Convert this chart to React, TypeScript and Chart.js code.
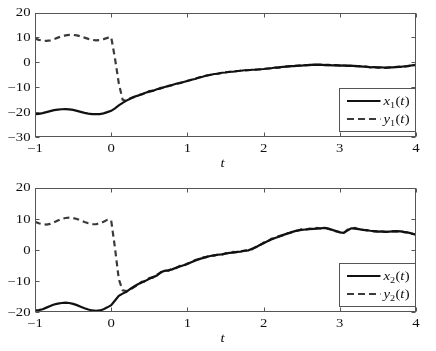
import React, { useEffect, useRef } from 'react';
import { Chart, registerables } from 'chart.js';
Chart.register(...registerables);

const T = [
  -1, -0.95, -0.9, -0.85, -0.8, -0.75, -0.7, -0.65, -0.6, -0.55,
  -0.5, -0.45, -0.4, -0.35, -0.3, -0.25, -0.2, -0.15, -0.1, -0.05,
  0, 0.05, 0.1, 0.15, 0.2, 0.25, 0.3, 0.35, 0.4, 0.45,
  0.5, 0.55, 0.6, 0.65, 0.7, 0.75, 0.8, 0.85, 0.9, 0.95,
  1, 1.05, 1.1, 1.15, 1.2, 1.25, 1.3, 1.35, 1.4, 1.45,
  1.5, 1.55, 1.6, 1.65, 1.7, 1.75, 1.8, 1.85, 1.9, 1.95,
  2, 2.05, 2.1, 2.15, 2.2, 2.25, 2.3, 2.35, 2.4, 2.45,
  2.5, 2.55, 2.6, 2.65, 2.7, 2.75, 2.8, 2.85, 2.9, 2.95,
  3, 3.05, 3.1, 3.15, 3.2, 3.25, 3.3, 3.35, 3.4, 3.45,
  3.5, 3.55, 3.6, 3.65, 3.7, 3.75, 3.8, 3.85, 3.9, 3.95,
  4,
];

const X1 = [
  -20.8, -20.7, -20.4, -20.0, -19.6, -19.2, -19.0, -18.85, -18.8, -18.9,
  -19.1, -19.5, -19.9, -20.3, -20.6, -20.8, -20.85, -20.8, -20.5, -20.0,
  -19.5, -18.5, -17.3, -16.3, -15.4, -14.6, -13.8, -13.4, -12.8, -12.2,
  -11.8, -11.4, -10.8, -10.5, -9.9, -9.6, -9.1, -8.6, -8.4, -7.9,
  -7.5, -7.0, -6.7, -6.1, -5.8, -5.3, -5.1, -4.7, -4.6, -4.2,
  -4.1, -3.8, -3.8, -3.5, -3.4, -3.2, -3.2, -3.0, -3.0, -2.8,
  -2.7, -2.5, -2.4, -2.1, -2.1, -1.8, -1.7, -1.5, -1.5, -1.3,
  -1.3, -1.1, -1.1, -0.9, -1.0, -0.9, -1.1, -1.0, -1.2, -1.1,
  -1.3, -1.2, -1.4, -1.3, -1.5, -1.5, -1.7, -1.7, -2.0, -1.9,
  -2.1, -2.0, -2.2, -2.0, -2.0, -1.8, -1.8, -1.6, -1.5, -1.2,
  -1.0,
];

const Y1 = [
  9.5, 9.0, 8.7, 8.6, 8.8, 9.3, 9.9, 10.4, 10.8, 11.0,
  11.0, 10.8, 10.4, 9.9, 9.4, 9.0, 8.8, 8.9, 9.3, 9.8,
  10.1, 1.5, -8.5, -15.0, -15.6, -14.4, -14.0, -13.2, -12.9, -12.4,
  -11.6, -11.5, -10.9, -10.3, -10.1, -9.4, -9.2, -8.7, -8.2, -8.0,
  -7.4, -7.1, -6.5, -6.2, -5.7, -5.4, -5.0, -4.8, -4.5, -4.3,
  -4.0, -3.9, -3.7, -3.6, -3.3, -3.3, -3.1, -3.1, -2.9, -2.9,
  -2.6, -2.6, -2.3, -2.2, -2.0, -1.9, -1.6, -1.6, -1.4, -1.4,
  -1.2, -1.2, -1.0, -1.0, -0.9, -1.0, -1.0, -1.1, -1.1, -1.2,
  -1.2, -1.3, -1.3, -1.4, -1.4, -1.6, -1.6, -1.8, -1.9, -2.0,
  -2.0, -2.1, -2.1, -2.1, -1.9, -1.9, -1.7, -1.7, -1.4, -1.3,
  -1.1,
];

const X2 = [
  -19.5, -19.4, -19.1, -18.6, -18.1, -17.6, -17.3, -17.1, -17.0, -17.1,
  -17.4, -17.8, -18.3, -18.8, -19.2, -19.5, -19.6, -19.5, -19.1, -18.5,
  -17.8, -16.3, -14.8, -14.1, -13.5, -12.6, -11.8, -11.1, -10.5, -10.0,
  -9.3, -8.8, -8.3, -7.2, -6.8, -6.6, -6.3, -5.8, -5.4, -5.0,
  -4.6, -4.0, -3.5, -3.0, -2.7, -2.3, -2.0, -1.8, -1.6, -1.5,
  -1.3, -1.0, -0.9, -0.7, -0.6, -0.3, -0.2, 0.3, 0.8, 1.5,
  2.1, 2.7, 3.3, 3.8, 4.2, 4.7, 5.1, 5.5, 5.9, 6.2,
  6.4, 6.5, 6.6, 6.7, 6.8, 6.9, 7.0, 6.8, 6.4, 6.0,
  5.6, 5.4, 6.2, 6.9, 6.8, 6.6, 6.4, 6.3, 6.1, 6.0,
  5.8, 5.9, 5.7, 5.8, 5.9, 6.0, 5.9, 5.7, 5.5, 5.2,
  4.8,
];

const Y2 = [
  9.0, 8.5, 8.2, 8.1, 8.3, 8.8, 9.4, 9.9, 10.2, 10.3,
  10.2, 9.9, 9.4, 8.9, 8.5, 8.2, 8.2, 8.5, 9.0, 9.6,
  9.4, 0.5, -9.5, -13.0, -13.3, -12.8, -12.0, -11.3, -10.3, -10.2,
  -9.1, -8.9, -8.0, -7.4, -6.6, -6.8, -6.1, -5.9, -5.2, -5.1,
  -4.4, -4.1, -3.3, -3.1, -2.5, -2.4, -1.8, -1.9, -1.5, -1.6,
  -1.1, -1.1, -0.7, -0.8, -0.4, -0.4, 0.0, 0.2, 1.0, 1.4,
  2.3, 2.6, 3.5, 3.7, 4.4, 4.6, 5.3, 5.4, 6.1, 6.1,
  6.6, 6.4, 6.8, 6.6, 7.0, 6.8, 7.1, 6.7, 6.5, 5.9,
  5.7, 5.3, 6.4, 6.8, 7.0, 6.5, 6.5, 6.2, 6.2, 5.9,
  5.9, 5.8, 5.8, 5.7, 6.0, 5.9, 6.0, 5.6, 5.6, 5.1,
  4.9,
];

const X_TICKS = [-1, 0, 1, 2, 3, 4];
const Y_TICKS_TOP = [-30, -20, -10, 0, 10, 20];
const Y_TICKS_BOTTOM = [-20, -10, 0, 10, 20];
const X_TITLE = 't';

const FONT = '"Liberation Serif", "Times New Roman", serif';
const FRAME = '#555';
const TEXT = '#111';
const STRETCH = 1.28; // reference glyphs are horizontally widened
const FS = 11.5;

function pts(ts: number[], vs: number[]) {
  return ts.map((t, i) => ({ x: t, y: vs[i] }));
}
function fmt(v: number) {
  return String(v).replace('-', '\u2212');
}

// draw horizontally stretched text; returns drawn width
function sText(ctx: any, s: string, x: number, y: number, font: string, align: 'left' | 'right' | 'center') {
  ctx.font = font;
  const w = ctx.measureText(s).width * STRETCH;
  let x0 = x;
  if (align === 'right') x0 = x - w;
  else if (align === 'center') x0 = x - w / 2;
  ctx.save();
  ctx.translate(x0, y);
  ctx.scale(STRETCH, 1);
  ctx.textAlign = 'left';
  ctx.textBaseline = 'alphabetic';
  ctx.fillText(s, 0, 0);
  ctx.restore();
  return w;
}

const framePlugin = {
  id: 'panelFrame',
  afterDatasetsDraw(chart: any, _args: any, opts: any) {
    const { ctx, chartArea: a, scales } = chart;
    ctx.save();
    ctx.strokeStyle = FRAME;
    ctx.lineWidth = 1;
    const L = Math.round(a.left) + 0.5;
    const R = Math.round(a.right) - 0.5;
    const Tp = Math.round(a.top) + 0.5;
    const B = Math.round(a.bottom) - 0.5;
    ctx.strokeRect(L, Tp, R - L, B - Tp);
    const tl = 4;
    ctx.beginPath();
    for (const v of opts.xTicks) {
      const px = Math.round(scales.x.getPixelForValue(v)) + 0.5;
      ctx.moveTo(px, B); ctx.lineTo(px, B - tl);
      ctx.moveTo(px, Tp); ctx.lineTo(px, Tp + tl);
    }
    for (const v of opts.yTicks) {
      const py = Math.round(scales.y.getPixelForValue(v)) + 0.5;
      ctx.moveTo(L, py); ctx.lineTo(L + tl, py);
      ctx.moveTo(R, py); ctx.lineTo(R - tl, py);
    }
    ctx.stroke();

    // tick labels
    ctx.fillStyle = TEXT;
    const f = `${FS}px ${FONT}`;
    const digitHalf = FS * 0.338;
    for (const v of opts.xTicks) {
      const px = scales.x.getPixelForValue(v);
      sText(ctx, fmt(v), px, a.bottom + 15, f, 'center');
    }
    for (const v of opts.yTicks) {
      const py = scales.y.getPixelForValue(v);
      sText(ctx, fmt(v), a.left - 4.5, py + digitHalf, f, 'right');
    }
    // axis title
    sText(ctx, opts.xTitle, (a.left + a.right) / 2 - 3, a.bottom + 29.5, `italic ${FS}px ${FONT}`, 'center');

    // legend
    const bw = 77, bh = 43.5;
    const bR = R;
    const bB = Math.round(a.bottom - 6) + 0.5;
    const bL = Math.round(bR - bw) + 0.5;
    const bT = Math.round(bB - bh) + 0.5;
    ctx.fillStyle = '#fff';
    ctx.fillRect(bL, bT, bR - bL, bB - bT);
    ctx.strokeStyle = FRAME;
    ctx.strokeRect(bL, bT, bR - bL, bB - bT);
    const rows = [
      { y: bT + 12.5, dash: [] as number[], color: '#111', letter: 'x' },
      { y: bT + 30.5, dash: [7, 4], color: '#3a3a3a', letter: 'y' },
    ];
    for (const r of rows) {
      ctx.beginPath();
      ctx.setLineDash(r.dash);
      ctx.strokeStyle = r.color;
      ctx.lineWidth = 2;
      ctx.moveTo(bL + 7.5, r.y);
      ctx.lineTo(bL + 41, r.y);
      ctx.stroke();
      ctx.setLineDash([]);
      let tx = bL + 44;
      const base = r.y + 4;
      ctx.fillStyle = TEXT;
      tx += sText(ctx, r.letter, tx, base, `italic ${FS}px ${FONT}`, 'left');
      tx += sText(ctx, opts.sub, tx, base + 2.5, `8px ${FONT}`, 'left') + 0.3;
      tx += sText(ctx, '(', tx, base, `${FS}px ${FONT}`, 'left');
      tx += sText(ctx, 't', tx, base, `italic ${FS}px ${FONT}`, 'left') + 0.3;
      sText(ctx, ')', tx, base, `${FS}px ${FONT}`, 'left');
    }
    ctx.restore();
  },
};

function Panel(props: { xs: number[]; ys: number[]; yTicks: number[]; sub: string; height: number }) {
  const ref = useRef<HTMLCanvasElement>(null);
  useEffect(() => {
    const { xs, ys, yTicks, sub, height } = props;
    const yMin = yTicks[0];
    const yMax = yTicks[yTicks.length - 1];
    const chart = new Chart(ref.current as HTMLCanvasElement, {
      type: 'line',
      data: {
        datasets: [
          {
            data: pts(T, xs),
            borderColor: '#111',
            borderWidth: 2.2,
            pointRadius: 0,
            tension: 0,
          },
          {
            data: pts(T, ys),
            borderColor: '#3a3a3a',
            borderWidth: 2.2,
            borderDash: [6, 4],
            pointRadius: 0,
            tension: 0,
          },
        ],
      },
      options: {
        animation: false,
        responsive: false,
        maintainAspectRatio: false,
        layout: { padding: { left: 0, right: 20, top: 12.5, bottom: 0 } },
        plugins: {
          legend: { display: false },
          tooltip: { enabled: false },
          panelFrame: { xTicks: X_TICKS, yTicks, sub, xTitle: X_TITLE },
        } as any,
        scales: {
          x: {
            type: 'linear',
            min: -1,
            max: 4,
            grid: { display: false, drawTicks: false },
            border: { display: false },
            ticks: { display: false },
            afterBuildTicks: (s: any) => {
              s.ticks = X_TICKS.map((v) => ({ value: v }));
            },
            afterFit: (s: any) => {
              s.height = height - 12.5 - 124.5;
            },
          },
          y: {
            type: 'linear',
            min: yMin,
            max: yMax,
            grid: { display: false, drawTicks: false },
            border: { display: false },
            ticks: { display: false },
            afterBuildTicks: (s: any) => {
              s.ticks = yTicks.map((v) => ({ value: v }));
            },
            afterFit: (s: any) => {
              s.width = 35;
            },
          },
        },
      },
      plugins: [framePlugin],
    } as any);
    return () => chart.destroy();
  }, []);
  return <canvas ref={ref} width={436} height={props.height} style={{ display: 'block' }} />;
}

export default function App() {
  return (
    <div style={{ position: 'fixed', left: 0, top: 0, width: 436, height: 351, background: '#fff' }}>
      <Panel xs={X1} ys={Y1} yTicks={Y_TICKS_TOP} sub="1" height={175} />
      <Panel xs={X2} ys={Y2} yTicks={Y_TICKS_BOTTOM} sub="2" height={176} />
    </div>
  );
}
